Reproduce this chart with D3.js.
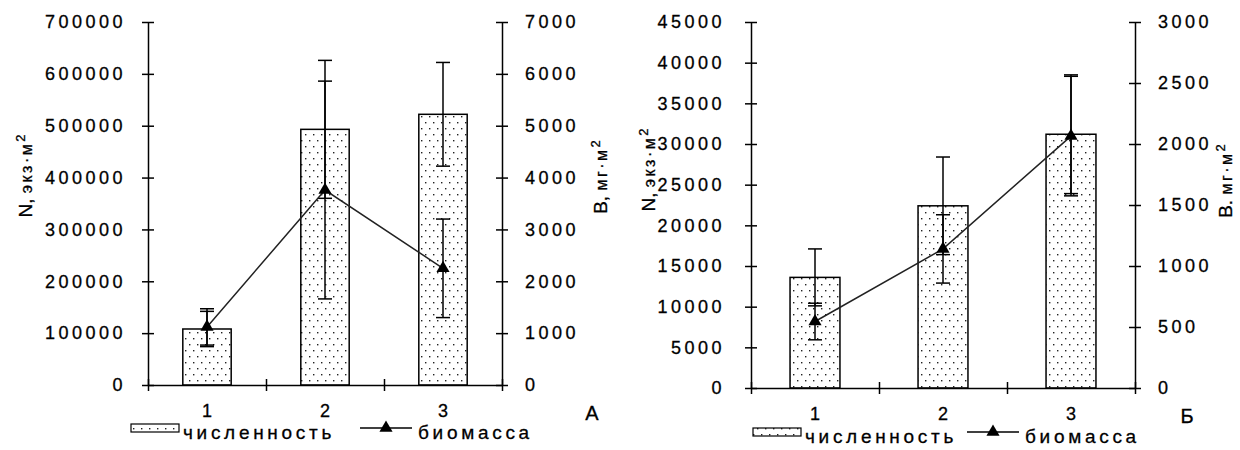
<!DOCTYPE html>
<html>
<head>
<meta charset="utf-8">
<script src="https://cdn.jsdelivr.net/npm/d3@7"></script>
<style>
  body { margin: 0; background: #fff; }
  svg text { font-family: "Liberation Sans", Arial, sans-serif; fill: #000; stroke: #000; stroke-width: 0.3px; }
</style>
</head>
<body>
<svg id="chart" width="1240" height="450"></svg>
<script>
// categories
const categories = ["1", "2", "3"];

// panel A
const aNumbers = [108000, 493000, 522000];
const aNumbersErr = [34000, 133000, 100000];
const aBiomass = [1120, 3760, 2250];
const aBiomassErr = [350, 2100, 950];
const aLeftTicks = [0, 100000, 200000, 300000, 400000, 500000, 600000, 700000];
const aRightTicks = [0, 1000, 2000, 3000, 4000, 5000, 6000, 7000];

// panel Б
const bNumbers = [13600, 22400, 31200];
const bNumbersErr = [3500, 6000, 7300];
const bBiomass = [545, 1140, 2065];
const bBiomassErr = [150, 280, 490];
const bLeftTicks = [0, 5000, 10000, 15000, 20000, 25000, 30000, 35000, 40000, 45000];
const bRightTicks = [0, 500, 1000, 1500, 2000, 2500, 3000];

const svg = d3.select('#chart');

// dotted fill like the old excel pattern
const defs = svg.append('defs');
const pat = defs.append('pattern')
    .attr('id', 'dots')
    .attr('patternUnits', 'userSpaceOnUse')
    .attr('width', 8).attr('height', 12);
pat.append('rect').attr('width', 8).attr('height', 12).attr('fill', '#fff');
pat.append('rect').attr('x', 1).attr('y', 2).attr('width', 1.4).attr('height', 1.4).attr('fill', '#222');
pat.append('rect').attr('x', 5).attr('y', 8).attr('width', 1.4).attr('height', 1.4).attr('fill', '#222');

const tickFont = 18, spacing = 3.5;

function axisLabel(x, y, main, unit) {
    let t = svg.append('text')
        .attr('transform', 'translate(' + x + ',' + y + ') rotate(-90)')
        .attr('text-anchor', 'middle');
    t.append('tspan').attr('font-size', 19).text(main);
    t.append('tspan').attr('font-size', 16).attr('letter-spacing', 2.5).text(unit);
    t.append('tspan').attr('font-size', 13).attr('dy', -7).text('2');
}

function panel(o) {
    let x = d3.scaleBand().domain(categories).range([o.left, o.right]);
    let yL = d3.scaleLinear().domain([0, d3.max(o.leftTicks)]).range([o.bottom, o.top]);
    let yR = d3.scaleLinear().domain([0, d3.max(o.rightTicks)]).range([o.bottom, o.top]);
    let barW = x.bandwidth() * o.barFrac;
    let cx = d => x(d) + x.bandwidth() / 2;

    // bars
    svg.selectAll(null)
        .data(categories)
        .enter()
        .append('rect')
        .attr('x', d => cx(d) - barW / 2)
        .attr('y', (d, i) => yL(o.numbers[i]))
        .attr('width', barW)
        .attr('height', (d, i) => o.bottom - yL(o.numbers[i]))
        .attr('fill', 'url(#dots)')
        .attr('stroke', '#000')
        .attr('stroke-width', 1.5);

    // error bars
    function errBars(vals, errs, scale) {
        let g = svg.append('g').attr('stroke', '#000').attr('stroke-width', 1.5);
        categories.forEach((c, i) => {
            let x0 = cx(c), hi = scale(vals[i] + errs[i]), lo = scale(vals[i] - errs[i]);
            g.append('line').attr('x1', x0).attr('x2', x0).attr('y1', hi).attr('y2', lo);
            g.append('line').attr('x1', x0 - 7).attr('x2', x0 + 7).attr('y1', hi).attr('y2', hi);
            g.append('line').attr('x1', x0 - 7).attr('x2', x0 + 7).attr('y1', lo).attr('y2', lo);
        });
    }
    errBars(o.numbers, o.numbersErr, yL);

    // biomass line
    let line = d3.line()
        .x((d, i) => cx(categories[i]))
        .y(d => yR(d));
    svg.append('path')
        .datum(o.biomass)
        .attr('d', line)
        .attr('fill', 'none')
        .attr('stroke', '#222')
        .attr('stroke-width', 1.5);

    errBars(o.biomass, o.biomassErr, yR);

    svg.selectAll(null)
        .data(o.biomass)
        .enter()
        .append('path')
        .attr('d', d3.symbol(d3.symbolTriangle, 75))
        .attr('transform', (d, i) => 'translate(' + cx(categories[i]) + ',' + yR(d) + ')')
        .attr('fill', '#000');

    // axes
    function styleAxis(g) {
        g.select('.domain').attr('stroke', '#000').attr('stroke-width', 1.5);
        g.selectAll('.tick line').attr('stroke', '#000').attr('stroke-width', 1.5);
        g.selectAll('.tick text')
            .attr('font-size', tickFont)
            .attr('font-family', '"Liberation Sans", Arial, sans-serif')
            .attr('letter-spacing', spacing);
    }
    let gl = svg.append('g')
        .attr('transform', 'translate(' + o.left + ',0)')
        .call(d3.axisLeft(yL).tickValues(o.leftTicks).tickSize(6).tickSizeOuter(0)
            .tickPadding(o.padL).tickFormat(d3.format('d')));
    gl.selectAll('.tick line').attr('x1', 6);
    styleAxis(gl);

    let gr = svg.append('g')
        .attr('transform', 'translate(' + o.right + ',0)')
        .call(d3.axisRight(yR).tickValues(o.rightTicks).tickSize(6).tickSizeOuter(0)
            .tickPadding(o.padR).tickFormat(d3.format('d')));
    gr.selectAll('.tick line').attr('x1', -6);
    styleAxis(gr);

    // x axis: ticks on the category borders
    let xb = d3.scaleLinear().domain([0, 3]).range([o.left, o.right]);
    let gx = svg.append('g')
        .attr('transform', 'translate(0,' + o.bottom + ')')
        .call(d3.axisBottom(xb).tickValues([0, 1, 2, 3]).tickSize(6).tickSizeOuter(0).tickFormat(''));
    gx.selectAll('.tick line').attr('y1', -6);
    styleAxis(gx);

    svg.selectAll(null)
        .data(categories)
        .enter()
        .append('text')
        .attr('x', d => cx(d))
        .attr('y', o.catY)
        .attr('text-anchor', 'middle')
        .attr('font-size', tickFont)
        .text(d => d);

    svg.append('text')
        .attr('x', o.letterX).attr('y', o.catY + 3)
        .attr('text-anchor', 'middle')
        .attr('font-size', 20)
        .text(o.letter);

    axisLabel(o.nLabelX, o.nLabelY, 'N, ', 'экз·м');
    axisLabel(o.bLabelX, o.bLabelY, o.bMain, 'мг·м');

    // legend
    let ly = o.legendY;
    svg.append('rect')
        .attr('x', o.legendX).attr('y', ly - 4)
        .attr('width', 48).attr('height', 8)
        .attr('fill', 'url(#dots)').attr('stroke', '#000').attr('stroke-width', 1.2);
    svg.append('text')
        .attr('x', o.legendX + 52).attr('y', ly + 11)
        .attr('font-size', 19).attr('letter-spacing', 3.7)
        .text('численность');
    let lx = o.legendX + o.lineOff;
    svg.append('line')
        .attr('x1', lx).attr('x2', lx + 52).attr('y1', ly).attr('y2', ly)
        .attr('stroke', '#000').attr('stroke-width', 1.5);
    svg.append('path')
        .attr('d', d3.symbol(d3.symbolTriangle, 75))
        .attr('transform', 'translate(' + (lx + 26) + ',' + ly + ')');
    svg.append('text')
        .attr('x', lx + 58).attr('y', ly + 11)
        .attr('font-size', 19).attr('letter-spacing', 3.7)
        .text('биомасса');
}

panel({
    left: 148, right: 502, top: 22, bottom: 385, barFrac: 0.41,
    numbers: aNumbers, numbersErr: aNumbersErr,
    biomass: aBiomass, biomassErr: aBiomassErr,
    leftTicks: aLeftTicks, rightTicks: aRightTicks,
    padL: 16, padR: 17, catY: 417,
    letter: 'А', letterX: 592,
    nLabelX: 32, nLabelY: 176,
    bLabelX: 607, bLabelY: 177, bMain: 'B, ',
    legendX: 131, legendY: 428, lineOff: 229
});

panel({
    left: 751, right: 1135, top: 22, bottom: 388, barFrac: 0.39,
    numbers: bNumbers, numbersErr: bNumbersErr,
    biomass: bBiomass, biomassErr: bBiomassErr,
    leftTicks: bLeftTicks, rightTicks: bRightTicks,
    padL: 20, padR: 17, catY: 420,
    letter: 'Б', letterX: 1187,
    nLabelX: 655, nLabelY: 170,
    bLabelX: 1232, bLabelY: 181, bMain: 'B. ',
    legendX: 753, legendY: 432, lineOff: 214
});
</script>
</body>
</html>
